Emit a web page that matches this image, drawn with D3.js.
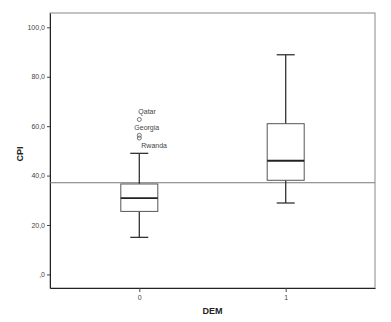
<!DOCTYPE html>
<html>
<head>
<meta charset="utf-8" />
<script src="https://d3js.org/d3.v7.min.js"></script>
<style>
  body { margin: 0; background: #fff; }
  svg { display: block; font-family: "Liberation Sans", Arial, sans-serif; }
</style>
</head>
<body>
<div id="visu"></div>
<script>
// groupes DEM
const categories = ["0", "1"];
// statistiques des boites (min, q1, mediane, q3, max)
const whiskerLow = [15.0, 28.9];
const q1 = [25.5, 38.1];
const medians = [30.9, 46.0];
const q3 = [36.6, 61.0];
const whiskerHigh = [49.0, 88.9];
// valeurs aberrantes (groupe 0)
const outlierNames = ["Qatar", "Georgia", "Rwanda"];
const outlierValues = [62.7, 56.3, 55.2];
const outlierGroup = ["0", "0", "0"];
// ligne de reference
const refLine = 37.1;
const yTicks = [0, 20, 40, 60, 80, 100];

const width = 391, height = 322;
const mLeft = 50, mRight = 375, mTop = 13, mBottom = 288;

const svg = d3.select("#visu").append("svg")
    .attr("width", width)
    .attr("height", height);

const x = d3.scalePoint().domain(categories).range([mLeft, mRight]).padding(0.61);
const y = d3.scaleLinear().domain([-5.5, 105.8]).range([mBottom, mTop]);

// cadre
svg.append("rect")
    .attr("x", mLeft).attr("y", mTop)
    .attr("width", mRight - mLeft).attr("height", mBottom - mTop)
    .attr("fill", "none").attr("stroke", "#888").attr("stroke-width", 1);

// axes
const yAxis = svg.append("g")
    .attr("transform", `translate(${mLeft},0)`)
    .call(d3.axisLeft(y).tickValues(yTicks).tickSize(3).tickPadding(2).tickSizeOuter(0)
        .tickFormat(v => v === 0 ? ",0" : d3.format(".1f")(v).replace(".", ",")));
yAxis.select(".domain").attr("stroke", "#222");
yAxis.selectAll("text").attr("font-size", 7).attr("fill", "#444");
yAxis.selectAll(".tick line").attr("stroke", "#444");

const xAxis = svg.append("g")
    .attr("transform", `translate(0,${mBottom})`)
    .call(d3.axisBottom(x).tickSize(4).tickPadding(3).tickSizeOuter(0));
xAxis.select(".domain").attr("stroke", "#222");
xAxis.selectAll("text").attr("font-size", 7).attr("fill", "#444");
xAxis.selectAll(".tick line").attr("stroke", "#444");

// titres
svg.append("text")
    .attr("x", (mLeft + mRight) / 2).attr("y", 314)
    .attr("text-anchor", "middle")
    .attr("font-size", 9).attr("font-weight", "bold").attr("fill", "#222")
    .text("DEM");
svg.append("text")
    .attr("transform", `translate(23,154) rotate(-90)`)
    .attr("text-anchor", "middle")
    .attr("font-size", 9).attr("font-weight", "bold").attr("fill", "#222")
    .text("CPI");

// ligne de reference
svg.append("line")
    .attr("x1", mLeft).attr("x2", mRight)
    .attr("y1", y(refLine)).attr("y2", y(refLine))
    .attr("stroke", "#777").attr("stroke-width", 1);

const boxW = 37, capW = 18;
const boxes = categories.map((c, i) => ({
    c, lo: whiskerLow[i], q1: q1[i], med: medians[i], q3: q3[i], hi: whiskerHigh[i]
}));

const g = svg.selectAll(".box").data(boxes).enter().append("g");

// moustaches
g.append("line")
    .attr("x1", d => x(d.c)).attr("x2", d => x(d.c))
    .attr("y1", d => y(d.hi)).attr("y2", d => y(d.q3))
    .attr("stroke", "#333").attr("stroke-width", 1.3);
g.append("line")
    .attr("x1", d => x(d.c)).attr("x2", d => x(d.c))
    .attr("y1", d => y(d.q1)).attr("y2", d => y(d.lo))
    .attr("stroke", "#333").attr("stroke-width", 1.3);
g.append("line")
    .attr("x1", d => x(d.c) - capW / 2).attr("x2", d => x(d.c) + capW / 2)
    .attr("y1", d => y(d.hi)).attr("y2", d => y(d.hi))
    .attr("stroke", "#333").attr("stroke-width", 1.3);
g.append("line")
    .attr("x1", d => x(d.c) - capW / 2).attr("x2", d => x(d.c) + capW / 2)
    .attr("y1", d => y(d.lo)).attr("y2", d => y(d.lo))
    .attr("stroke", "#333").attr("stroke-width", 1.3);

// boites
g.append("rect")
    .attr("x", d => x(d.c) - boxW / 2).attr("width", boxW)
    .attr("y", d => y(d.q3)).attr("height", d => y(d.q1) - y(d.q3))
    .attr("fill", "none").attr("stroke", "#555").attr("stroke-width", 1);
g.append("line")
    .attr("x1", d => x(d.c) - boxW / 2).attr("x2", d => x(d.c) + boxW / 2)
    .attr("y1", d => y(d.med)).attr("y2", d => y(d.med))
    .attr("stroke", "#222").attr("stroke-width", 1.8);

// aberrants
const outliers = outlierNames.map((n, i) => ({ n, v: outlierValues[i], c: outlierGroup[i] }));
const labelDx = [-1, -5, 2];
const labelDy = [-5, -5, 10];
svg.selectAll(".out").data(outliers).enter().append("circle")
    .attr("cx", d => x(d.c)).attr("cy", d => y(d.v))
    .attr("r", 2)
    .attr("fill", "none").attr("stroke", "#555").attr("stroke-width", 0.8);
svg.selectAll(".outlab").data(outliers).enter().append("text")
    .attr("x", (d, i) => x(d.c) + labelDx[i])
    .attr("y", (d, i) => y(d.v) + labelDy[i])
    .attr("font-size", 7).attr("fill", "#444")
    .text(d => d.n);
</script>
</body>
</html>
